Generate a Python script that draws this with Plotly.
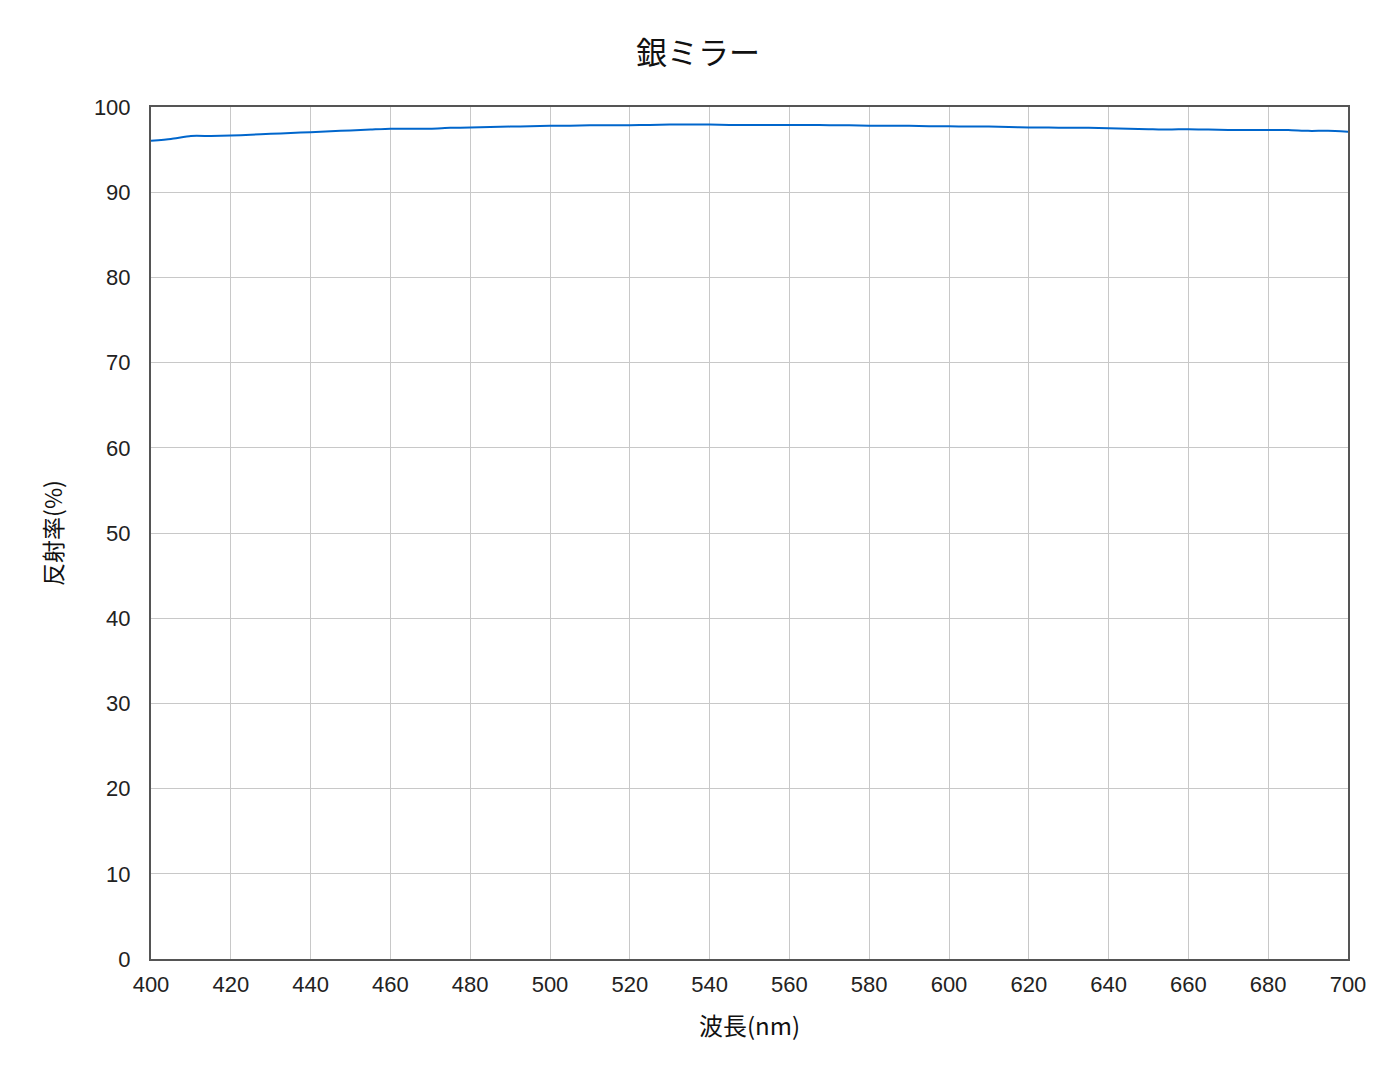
import plotly.graph_objects as go

wavelength = [400, 405, 410, 415, 420, 425, 430, 435, 440, 445, 450, 455, 460, 465, 470, 475,
              480, 485, 490, 495, 500, 505, 510, 515, 520, 525, 530, 535, 540, 545, 550, 555,
              560, 565, 570, 575, 580, 585, 590, 595, 600, 605, 610, 615, 620, 625, 630, 635,
              640, 645, 650, 655, 660, 665, 670, 675, 680, 685, 690, 695, 700]
reflectance = [96.05, 96.25, 96.6, 96.6, 96.65, 96.75, 96.85, 96.95, 97.05, 97.15, 97.25, 97.35, 97.45, 97.45, 97.45, 97.55,
               97.6, 97.65, 97.7, 97.75, 97.8, 97.8, 97.85, 97.85, 97.85, 97.9, 97.95, 97.95, 97.95, 97.9, 97.9, 97.9,
               97.9, 97.9, 97.85, 97.85, 97.8, 97.8, 97.8, 97.75, 97.75, 97.7, 97.7, 97.65, 97.6, 97.6, 97.55, 97.55,
               97.5, 97.45, 97.4, 97.35, 97.4, 97.35, 97.3, 97.3, 97.3, 97.3, 97.2, 97.2, 97.1]

x_ticks = list(range(400, 701, 20))
y_ticks = list(range(0, 101, 10))

font_family = "Noto Sans CJK JP, Liberation Sans, sans-serif"

fig = go.Figure()
fig.add_trace(go.Scatter(x=wavelength, y=reflectance, mode="lines",
                         line=dict(color="#0066cc", width=2, shape="spline", smoothing=0.6),
                         showlegend=False))

fig.update_layout(
    width=1380, height=1070,
    paper_bgcolor="white", plot_bgcolor="white",
    margin=dict(l=143, r=40, t=99, b=119),
    title=dict(text="銀ミラー", x=0.5, xanchor="center", y=0.958, yanchor="middle",
               font=dict(family=font_family, size=31, color="#111111")),
    font=dict(family=font_family, color="#222222"),
)
fig.update_xaxes(range=[400, 700], tickvals=x_ticks, ticktext=[str(v) for v in x_ticks],
                 showgrid=True, gridcolor="#c8c8c8", gridwidth=1,
                 showline=True, linecolor="#555555", linewidth=2, mirror=True,
                 ticks="outside", ticklen=5, tickcolor="rgba(0,0,0,0)", zeroline=False,
                 tickfont=dict(family="Liberation Sans, sans-serif", size=22, color="#222222"),
                 title=dict(text="波長(nm)", font=dict(family=font_family, size=24, color="#111111"),
                            standoff=22))
fig.update_yaxes(range=[0, 100], tickvals=y_ticks, ticktext=[str(v) for v in y_ticks],
                 showgrid=True, gridcolor="#c8c8c8", gridwidth=1,
                 showline=True, linecolor="#555555", linewidth=2, mirror=True,
                 ticks="outside", ticklen=14, tickcolor="rgba(0,0,0,0)", zeroline=False,
                 tickfont=dict(family="Liberation Sans, sans-serif", size=22, color="#222222"),
                 title=dict(text="反射率(%)", font=dict(family=font_family, size=23, color="#111111"),
                            standoff=25))

fig.write_html("out.html")
